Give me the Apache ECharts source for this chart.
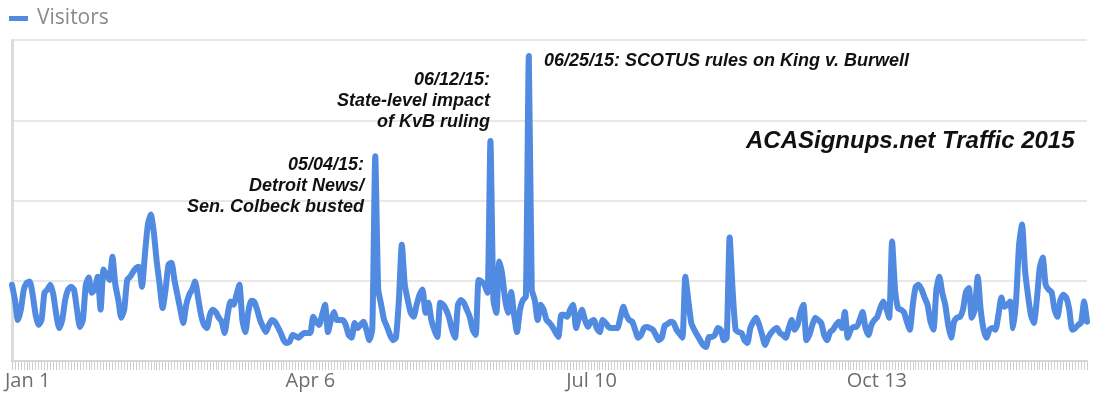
<!DOCTYPE html>
<html>
<head>
<meta charset="utf-8">
<script src="https://cdn.jsdelivr.net/npm/echarts@6/dist/echarts.min.js"></script>
<style>
html,body{margin:0;padding:0;background:#fff;}
#chart{width:1110px;height:400px;}
</style>
</head>
<body>
<div id="chart"></div>
<script>
// Daily visitors, Jan 1 – Dec 31, 2015 (gridline step = 1000)
const visitors = [
 950,760,510,640,890,975,990,825,575,450,
 510,850,890,950,825,575,410,510,760,890,
 925,890,640,425,510,950,1040,850,890,1050,
 640,1140,1075,1010,1300,950,760,540,640,1010,
 1050,1110,1160,1175,925,1325,1700,1825,1610,1240,
 950,660,890,1200,1225,1010,825,640,475,700,
 825,890,990,790,575,450,410,575,640,610,
 540,490,350,575,740,700,825,950,510,360,
 610,750,740,640,510,425,360,450,510,490,
 425,350,260,225,240,325,310,290,325,350,
 350,350,550,490,450,575,700,360,510,610,
 510,510,510,450,325,290,475,410,450,490,
 390,260,400,2550,900,700,510,425,325,260,
 290,760,1450,950,760,600,550,700,825,890,
 600,725,510,390,300,725,700,640,540,390,
 290,700,760,725,640,550,390,325,1010,990,
 950,850,2740,760,600,1240,1075,760,600,860,
 575,360,640,760,800,3800,890,760,510,700,
 640,510,475,425,360,300,575,575,550,640,
 700,410,540,640,510,425,490,510,410,360,
 510,475,425,410,410,410,540,675,575,510,
 490,390,290,325,410,425,410,390,325,260,
 290,440,460,490,475,390,340,290,1050,760,
 475,390,325,260,200,175,300,300,325,410,
 390,260,290,1540,890,390,360,350,260,225,
 410,490,540,450,325,200,290,350,390,410,
 350,325,290,410,510,390,450,610,700,260,
 325,450,540,510,475,325,260,360,390,450,
 490,410,610,290,390,425,425,510,610,410,
 325,450,510,550,660,740,660,540,1490,890,
 660,640,610,490,390,700,925,950,890,790,
 700,490,390,890,1050,850,700,450,290,490,
 540,550,640,860,910,540,640,1050,640,390,
 290,390,410,390,575,790,675,700,740,410,
 760,1450,1700,1140,825,575,475,760,1160,1290,
 950,890,860,640,550,760,825,790,640,390,
 410,450,475,740,490
];

// Category labels: one per day of 2015
const monthNames = ['Jan','Feb','Mar','Apr','May','Jun','Jul','Aug','Sep','Oct','Nov','Dec'];
const days = [];
for (let i = 0; i < visitors.length; i++) {
  const dt = new Date(Date.UTC(2015, 0, 1 + i));
  days.push(monthNames[dt.getUTCMonth()] + ' ' + dt.getUTCDate());
}

const tickLabels = ['Jan 1', 'Apr 6', 'Jul 10', 'Oct 13'];
const seriesName = 'Visitors';
const chartTitle = 'ACASignups.net Traffic 2015';

const annotations = [
  { lines: ['05/04/15:', 'Detroit News/', 'Sen. Colbeck busted'], x: 364, y: 165, align: 'right' },
  { lines: ['06/12/15:', 'State-level impact', 'of KvB ruling'], x: 490, y: 80, align: 'right' },
  { lines: ['06/25/15: SCOTUS rules on King v. Burwell'], x: 544, y: 61, align: 'left' }
];

const annFont = 'italic bold 18px "Liberation Sans", Arial, sans-serif';
const graphics = [];
annotations.forEach(a => {
  a.lines.forEach((ln, k) => {
    graphics.push({
      type: 'text',
      z: 100,
      style: {
        x: a.x, y: a.y + k * 21,
        text: ln,
        font: annFont,
        fill: '#111',
        textAlign: a.align,
        textVerticalAlign: 'middle'
      }
    });
  });
});
graphics.push({
  type: 'text',
  z: 100,
  style: {
    x: 746, y: 141,
    text: chartTitle,
    font: 'italic bold 24px "Liberation Sans", Arial, sans-serif',
    fill: '#111',
    textAlign: 'left',
    textVerticalAlign: 'middle'
  }
});

const chart = echarts.init(document.getElementById('chart'), null, { renderer: 'canvas' });
chart.setOption({
  animation: false,
  backgroundColor: '#fff',
  legend: {
    data: [seriesName],
    left: 4, top: 3,
    icon: 'rect',
    itemWidth: 19, itemHeight: 5,
    itemGap: 0,
    textStyle: { color: '#8a8a8a', fontSize: 21, fontFamily: '"Open Sans", sans-serif', padding: [0, 0, 0, 4] }
  },
  grid: { left: 12, right: 23, top: 40, bottom: 39, containLabel: false },
  xAxis: {
    type: 'category',
    data: days,
    boundaryGap: false,
    axisLine: { show: true, lineStyle: { color: '#d6d6d6', width: 2 } },
    axisTick: { show: true, interval: 0, length: 9, lineStyle: { color: '#cfcfcf', width: 1 } },
    axisLabel: {
      interval: (idx, val) => tickLabels.indexOf(val) >= 0,
      align: 'left',
      margin: 10,
      padding: [0, 0, 0, -7],
      color: '#6e6e6e',
      fontSize: 20,
      fontFamily: '"Open Sans", sans-serif'
    },
    splitLine: { show: false }
  },
  yAxis: {
    type: 'value',
    min: 0, max: 4000, interval: 1000,
    axisLabel: { show: false },
    axisTick: { show: false },
    axisLine: { show: true, lineStyle: { color: '#dcdcdc', width: 3 } },
    splitLine: { show: true, lineStyle: { color: '#e8e8e8', width: 2 } }
  },
  series: [{
    name: seriesName,
    type: 'line',
    data: visitors,
    symbol: 'none',
    smooth: 0.2,
    color: '#518ae1',
    lineStyle: { color: '#518ae1', width: 6, join: 'round', cap: 'round' }
  }],
  graphic: graphics
});
</script>
</body>
</html>
